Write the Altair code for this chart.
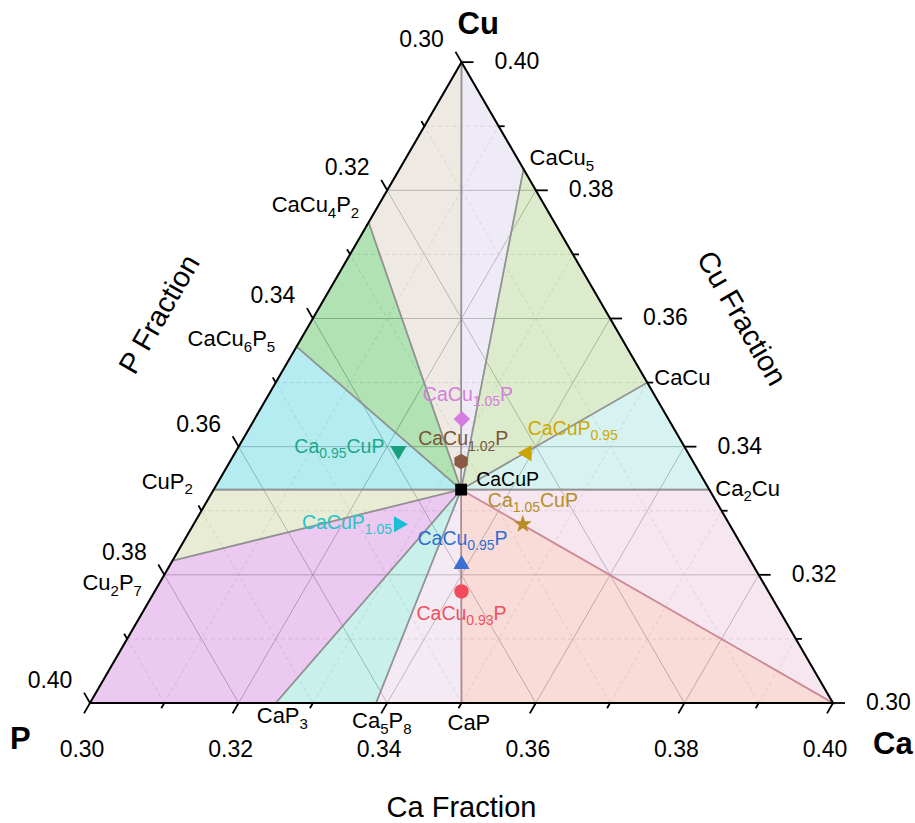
import math
import re

import altair as alt
import pandas as pd

# ---------------------------------------------------------------- data
# every composition is given as (Ca, Cu, P) atomic fractions

CORNER_NAMES = ["Ca", "Cu", "P"]
CORNER_CA = [0.40, 0.30, 0.30]
CORNER_CU = [0.30, 0.40, 0.30]
CORNER_P = [0.30, 0.30, 0.40]

# where the tie-lines from CaCuP towards the neighbouring phases leave the window
EDGE_PHASES = ["CaCu_{5}", "CaCu", "Ca_{2}Cu", "CaP", "Ca_{5}P_{8}",
               "CaP_{3}", "Cu_{2}P_{7}", "CuP_{2}", "CaCu_{6}P_{5}", "CaCu_{4}P_{2}"]
EDGE_CA = [0.3167, 0.3500, 0.3667, 0.3500, 0.3385, 0.3250, 0.3000, 0.3000, 0.3000, 0.3000]
EDGE_CU = [0.3833, 0.3500, 0.3333, 0.3000, 0.3000, 0.3000, 0.3222, 0.3333, 0.3556, 0.3750]
EDGE_P = [0.3000, 0.3000, 0.3000, 0.3500, 0.3615, 0.3750, 0.3778, 0.3667, 0.3444, 0.3250]

SAMPLES = ["CaCu_{1.05}P", "CaCu_{1.02}P", "Ca_{0.95}CuP", "CaCuP_{0.95}", "CaCuP",
           "Ca_{1.05}CuP", "CaCuP_{1.05}", "CaCu_{0.95}P", "CaCu_{0.93}P"]
SAMPLE_CA = [0.3279, 0.3311, 0.3220, 0.3390, 0.3333, 0.3443, 0.3279, 0.3390, 0.3413]
SAMPLE_CU = [0.3443, 0.3377, 0.3390, 0.3390, 0.3333, 0.3279, 0.3279, 0.3220, 0.3174]
SAMPLE_P = [0.3279, 0.3311, 0.3390, 0.3220, 0.3333, 0.3279, 0.3443, 0.3390, 0.3413]

# three-phase fields around CaCuP, as lists of corner points
REGIONS = [
    ["CaCuP", "Cu", "CaCu_{5}"],
    ["CaCuP", "CaCu_{5}", "CaCu"],
    ["CaCuP", "CaCu", "Ca_{2}Cu"],
    ["CaCuP", "Ca_{2}Cu", "Ca"],
    ["CaCuP", "Ca", "CaP"],
    ["CaCuP", "CaP", "Ca_{5}P_{8}"],
    ["CaCuP", "Ca_{5}P_{8}", "CaP_{3}"],
    ["CaCuP", "CaP_{3}", "P", "Cu_{2}P_{7}"],
    ["CaCuP", "Cu_{2}P_{7}", "CuP_{2}"],
    ["CaCuP", "CuP_{2}", "CaCu_{6}P_{5}"],
    ["CaCuP", "CaCu_{6}P_{5}", "CaCu_{4}P_{2}"],
    ["CaCuP", "CaCu_{4}P_{2}", "Cu"],
]

TICKS_MAJOR = [0.30, 0.32, 0.34, 0.36, 0.38, 0.40]
TICKS_MINOR = [0.31, 0.33, 0.35, 0.37, 0.39]

# ---------------------------------------------------------------- styles
FONT = "Liberation Sans"
REGION_FILLS = ["#e0dbef", "#bfdba2", "#b4e9e7", "#efd2e4", "#f4bfb8", "#e9d9e9",
                "#9de4d9", "#dc9de4", "#d7dcb1", "#77dce7", "#6fcb74", "#e2d7cc"]
REGION_EDGES = ["#8c8c8c"] * 4 + ["#e07f93"] + ["#8c8c8c"] * 7
FILL_OPACITY = 0.55

SAMPLE_COLORS = ["#d67ce0", "#8a5a44", "#17a07c", "#cba400", "#000000",
                 "#b88c24", "#16bfd6", "#3a70d6", "#f24a5a"]
LABEL_COLORS = ["#d47fdd", "#7b5638", "#1fa885", "#cfa900", "#000000",
                "#b58e2a", "#1fc6c9", "#2f6fd5", "#f2505e"]
HEXAGON = "M0,-1L0.866,-0.5L0.866,0.5L0,1L-0.866,0.5L-0.866,-0.5Z"
STAR = ("M0,-1L0.235,-0.324L0.951,-0.309L0.38,0.124L0.588,0.809L0,0.4"
        "L-0.588,0.809L-0.38,0.124L-0.951,-0.309L-0.235,-0.324Z")
SAMPLE_SHAPES = ["diamond", HEXAGON, "triangle-down", "triangle-left", "square",
                 STAR, "triangle-right", "triangle-up", "circle"]
SAMPLE_SIZES = [270, 240, 260, 260, 140, 360, 260, 260, 210]
# label placement relative to each marker: (left edge, text centre) in px
SAMPLE_LABEL_OFFSETS = [(-39, -25), (-43, -23), (-104, -7), (3, -25), (15, -11),
                        (-35, -24), (-99, -2), (-44, -24), (-45, 21)]
EDGE_LABEL_OFFSETS = [(6, -12), (7, -5), (6, -2), (-14, 19), (-24, 17),
                      (-19, 12), (-90, 21), (-72, -9), (-109, -9), (-97, -18)]

# ---------------------------------------------------------------- geometry
W, H = 915, 823
OX, OY = 90, 703          # pixel position of the P corner
SX, SY = 743, 740         # pixels per unit of the cartesian frame
X_DOMAIN = [-OX / SX, (W - OX) / SX]
Y_DOMAIN = [(OY - H) / SY, OY / SY]


def to_xy(ca, cu, p):
    a = (ca - 0.30) / 0.10
    c = (cu - 0.30) / 0.10
    return a + c / 2, c * math.sqrt(3) / 2


def shift(x, y, dx, dy):
    """Move a cartesian point by a pixel offset (dy pointing down)."""
    return x + dx / SX, y - dy / SY


POINTS = {}
for n, a, c, p in zip(CORNER_NAMES, CORNER_CA, CORNER_CU, CORNER_P):
    POINTS[n] = to_xy(a, c, p)
for n, a, c, p in zip(EDGE_PHASES, EDGE_CA, EDGE_CU, EDGE_P):
    POINTS[n] = to_xy(a, c, p)
for n, a, c, p in zip(SAMPLES, SAMPLE_CA, SAMPLE_CU, SAMPLE_P):
    POINTS[n] = to_xy(a, c, p)

X = alt.X("x:Q", scale=alt.Scale(domain=X_DOMAIN, nice=False, zero=False), axis=None)
Y = alt.Y("y:Q", scale=alt.Scale(domain=Y_DOMAIN, nice=False, zero=False), axis=None)

# ---------------------------------------------------------------- text helpers
ARIAL = {"C": 722, "a": 556, "u": 556, "P": 667, ".": 278, " ": 278, "F": 611,
         "r": 333, "c": 500, "t": 278, "i": 222, "o": 556, "n": 556}


def text_width(s, size):
    return sum(ARIAL.get(ch, 556) for ch in s) * size / 1000.0


def split_formula(formula):
    parts = []
    pos = 0
    for m in re.finditer(r"_\{([^}]*)\}", formula):
        if m.start() > pos:
            parts.append((formula[pos:m.start()], False))
        parts.append((m.group(1), True))
        pos = m.end()
    if pos < len(formula):
        parts.append((formula[pos:], False))
    return parts


def formula_rows(formula, anchor, dx, dy, fs, fs_sub, color):
    rows = []
    cursor = dx
    base = dy + 0.36 * fs
    for seg, sub in split_formula(formula):
        size = fs_sub if sub else fs
        yb = base + (0.27 * fs if sub else 0)
        x, y = shift(anchor[0], anchor[1], cursor, yb)
        rows.append(dict(text=seg, x=x, y=y, size=size, color=color))
        cursor += text_width(seg, size)
    return rows


def text_layer(rows, align="left", baseline="alphabetic", angle=0, weight="normal"):
    return alt.Chart(pd.DataFrame(rows)).mark_text(
        align=align, baseline=baseline, angle=angle, fontWeight=weight, font=FONT
    ).encode(
        x=X, y=Y, text="text:N",
        size=alt.Size("size:Q", scale=None),
        color=alt.Color("color:N", scale=None),
    )


# ---------------------------------------------------------------- grid
def const_line(comp, v):
    if comp == "Cu":
        return to_xy(0.30, v, 0.70 - v), to_xy(0.70 - v, v, 0.30)
    if comp == "Ca":
        return to_xy(v, 0.30, 0.70 - v), to_xy(v, 0.70 - v, 0.30)
    return to_xy(0.70 - v, 0.30, v), to_xy(0.30, 0.70 - v, v)


grid_rows = []
for v in TICKS_MAJOR[1:-1] + TICKS_MINOR:
    kind = "major" if v in TICKS_MAJOR else "minor"
    for comp in ("Cu", "Ca", "P"):
        (x1, y1), (x2, y2) = const_line(comp, v)
        grid_rows.append(dict(x=x1, y=y1, x2=x2, y2=y2, kind=kind))
grid = pd.DataFrame(grid_rows)

grid_major = alt.Chart(grid[grid.kind == "major"]).mark_rule(
    color="#6f6f6f", strokeWidth=1, opacity=0.8
).encode(x=X, y=Y, x2="x2:Q", y2="y2:Q")
grid_minor = alt.Chart(grid[grid.kind == "minor"]).mark_rule(
    color="#9a9a9a", strokeWidth=0.8, strokeDash=[4, 3], opacity=0.6
).encode(x=X, y=Y, x2="x2:Q", y2="y2:Q")

# ---------------------------------------------------------------- phase fields
poly_rows = []
for i, names in enumerate(REGIONS):
    for j, n in enumerate(names + [names[0]]):
        x, y = POINTS[n]
        poly_rows.append(dict(region=i, i=j, x=x, y=y,
                              fill=REGION_FILLS[i], edge=REGION_EDGES[i]))
poly = pd.DataFrame(poly_rows)

fields = alt.Chart(poly).mark_line(
    filled=True, strokeWidth=0, fillOpacity=FILL_OPACITY
).encode(
    x=X, y=Y, order="i:Q", detail="region:N",
    color=alt.Color("fill:N", scale=None),
)
field_edges = alt.Chart(poly).mark_line(strokeWidth=1.6, opacity=0.75).encode(
    x=X, y=Y, order="i:Q", detail="region:N",
    color=alt.Color("edge:N", scale=None),
)

# ---------------------------------------------------------------- frame and ticks
corner_xy = [POINTS["P"], POINTS["Ca"], POINTS["Cu"], POINTS["P"]]
frame = pd.DataFrame([
    dict(x=corner_xy[k][0], y=corner_xy[k][1], x2=corner_xy[k + 1][0], y2=corner_xy[k + 1][1])
    for k in range(3)
])
frame_layer = alt.Chart(frame).mark_rule(color="black", strokeWidth=2).encode(
    x=X, y=Y, x2="x2:Q", y2="y2:Q")

SQ = math.sqrt(3) / 2
tick_rows = []
bottom_labels, right_labels, left_labels = [], [], []
for v in sorted(TICKS_MAJOR + TICKS_MINOR):
    major = any(abs(v - m) < 1e-9 for m in TICKS_MAJOR)
    L = 12 if major else 6
    # Ca axis along the bottom edge
    b = to_xy(v, 0.30, 0.70 - v)
    e = shift(b[0], b[1], -0.5 * L, SQ * L)
    tick_rows.append(dict(x=b[0], y=b[1], x2=e[0], y2=e[1]))
    # Cu axis along the right edge
    r = to_xy(0.70 - v, v, 0.30)
    e = shift(r[0], r[1], L, 0)
    tick_rows.append(dict(x=r[0], y=r[1], x2=e[0], y2=e[1]))
    # P axis along the left edge
    le = to_xy(0.30, 0.70 - v, v)
    e = shift(le[0], le[1], -0.5 * L, -SQ * L)
    tick_rows.append(dict(x=le[0], y=le[1], x2=e[0], y2=e[1]))
    if major:
        lab = f"{v:.2f}"
        x, y = shift(b[0], b[1], -8, 47)
        bottom_labels.append(dict(text=lab, x=x, y=y, size=23, color="black"))
        x, y = shift(r[0], r[1], 33, 0)
        right_labels.append(dict(text=lab, x=x, y=y, size=23, color="black"))
        x, y = shift(le[0], le[1], -40, -22)
        left_labels.append(dict(text=lab, x=x, y=y, size=23, color="black"))

ticks = alt.Chart(pd.DataFrame(tick_rows)).mark_rule(color="black", strokeWidth=1.8).encode(
    x=X, y=Y, x2="x2:Q", y2="y2:Q")

# ---------------------------------------------------------------- samples
samples = pd.DataFrame(dict(
    name=SAMPLES,
    x=[POINTS[n][0] for n in SAMPLES],
    y=[POINTS[n][1] for n in SAMPLES],
    color=SAMPLE_COLORS,
    shape=SAMPLE_SHAPES,
    size=SAMPLE_SIZES,
))
markers = alt.Chart(samples).mark_point(filled=True, opacity=1, strokeWidth=0).encode(
    x=X, y=Y,
    color=alt.Color("color:N", scale=None),
    shape=alt.Shape("shape:N", scale=None),
    size=alt.Size("size:Q", scale=None),
)

# ---------------------------------------------------------------- labels
formula_text = []
for n, col, (dx, dy) in zip(SAMPLES, LABEL_COLORS, SAMPLE_LABEL_OFFSETS):
    formula_text += formula_rows(n, POINTS[n], dx, dy, 19.5, 14, col)
for n, (dx, dy) in zip(EDGE_PHASES, EDGE_LABEL_OFFSETS):
    formula_text += formula_rows(n, POINTS[n], dx, dy, 22, 15, "black")

corner_text = []
for n, (dx, dy) in zip(["Cu", "P", "Ca"], [(-4, -37), (-80, 37), (40, 42)]):
    x, y = shift(POINTS[n][0], POINTS[n][1], dx, dy)
    corner_text.append(dict(text=n, x=x, y=y, size=31, color="black"))

mid_bottom = ((POINTS["P"][0] + POINTS["Ca"][0]) / 2, POINTS["P"][1])
mid_left = ((POINTS["P"][0] + POINTS["Cu"][0]) / 2, (POINTS["P"][1] + POINTS["Cu"][1]) / 2)
mid_right = ((POINTS["Ca"][0] + POINTS["Cu"][0]) / 2, (POINTS["Ca"][1] + POINTS["Cu"][1]) / 2)


def title_row(text, anchor, dx, dy):
    x, y = shift(anchor[0], anchor[1], dx, dy)
    return [dict(text=text, x=x, y=y, size=29, color="black")]


layers = [
    grid_major,
    grid_minor,
    fields,
    field_edges,
    frame_layer,
    ticks,
    markers,
    text_layer(formula_text),
    text_layer(bottom_labels, align="center", baseline="middle"),
    text_layer(right_labels, align="left", baseline="middle"),
    text_layer(left_labels, align="center", baseline="middle"),
    text_layer(corner_text, align="left", baseline="middle", weight="bold"),
    text_layer(title_row("Ca Fraction", mid_bottom, 0, 105), align="center", baseline="middle"),
    text_layer(title_row("P Fraction", mid_left, -116, -68), align="center", baseline="middle", angle=300),
    text_layer(title_row("Cu Fraction", mid_right, 94, -64), align="center", baseline="middle", angle=60),
]

chart = alt.layer(*layers).properties(
    width=W, height=H, padding=0,
    autosize=alt.AutoSizeParams(type="none"),
    background="white",
).configure_view(stroke=None)

chart.save("out.html", embed_options={"renderer": "svg", "actions": False})
